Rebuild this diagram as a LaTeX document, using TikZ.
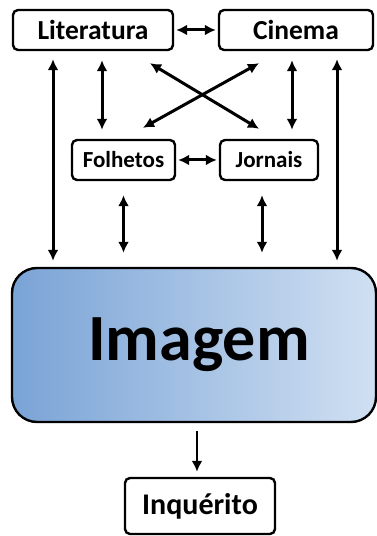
\documentclass[tikz,border=0pt]{standalone}
\usepackage{fontspec}
\setmainfont{Carlito}
\usetikzlibrary{positioning,arrows.meta}

\definecolor{imgleft}{RGB}{122,163,214}
\definecolor{imgright}{RGB}{208,224,242}

\tikzset{
    box/.style={draw,line width=2.4pt,rounded corners=5pt,inner sep=0pt},
    bigfont/.style={font=\fontsize{27.5}{32}\selectfont\bfseries},
    midfont/.style={font=\fontsize{23}{27}\selectfont\bfseries},
    link/.style={{Latex[length=11pt,width=11pt]}-{Latex[length=11pt,width=11pt]},line width=3pt},
    oneway/.style={-{Latex[length=11pt,width=11pt]},line width=2.6pt}
}

\begin{document}
\begin{tikzpicture}[x=1pt,y=1pt,on grid]
    \useasboundingbox (0,0) rectangle (377,536);
    \node[box,bigfont,minimum width=160pt,minimum height=40pt] (lit) at (93,506) {Literatura};
    \node[box,bigfont,minimum width=154pt,minimum height=40pt] (cin) [right=203pt of lit] {Cinema};
    \node[box,midfont,minimum width=103pt,minimum height=40pt] (folh) [below right=130pt and 30.5pt of lit] {Folhetos};
    \node[box,midfont,minimum width=98pt,minimum height=40pt] (jorn) [right=145.5pt of folh] {Jornais};
    \node[box,rounded corners=25pt,left color=imgleft,right color=imgright,minimum width=364pt,minimum height=154pt,font=\fontsize{66}{70}\selectfont\bfseries] (img) [below right=185pt and 70.5pt of folh] {\hspace*{10pt}Imagem};
    \node[box,font=\fontsize{30}{34}\selectfont\bfseries,minimum width=150pt,minimum height=56pt] (inq) [below right=161pt and 6pt of img] {Inquérito};

    \draw[link,shorten <=2pt,shorten >=2pt] (lit) -- (cin);
    \draw[link,shorten <=8pt,shorten >=6pt] ([xshift=-40pt]lit.south) -- ([xshift=-40pt]lit.south |- img.north);
    \draw[link,shorten <=9pt,shorten >=9pt] ([xshift=9pt]lit.south) -- ([xshift=9pt]lit.south |- folh.north);
    \draw[link] ([shift={(57pt,-12pt)}]lit.south) -- ([shift={(-10pt,10pt)}]jorn.north);
    \draw[link] ([shift={(-37pt,-12pt)}]cin.south) -- ([shift={(19.5pt,11pt)}]folh.north);
    \draw[link,shorten <=9pt,shorten >=9pt] ([xshift=-4pt]cin.south) -- ([xshift=-4pt]cin.south |- jorn.north);
    \draw[link,shorten <=8pt,shorten >=6pt] ([xshift=41pt]cin.south) -- ([xshift=41pt]cin.south |- img.north);
    \draw[link,shorten <=2pt,shorten >=2pt] (folh) -- (jorn);
    \draw[link,shorten <=14pt,shorten >=14pt] (folh.south) -- (folh.south |- img.north);
    \draw[link,shorten <=14pt,shorten >=14pt] ([xshift=-7pt]jorn.south) -- ([xshift=-7pt]jorn.south |- img.north);
    \draw[oneway,shorten <=8pt,shorten >=5pt] ([xshift=3pt]img.south) -- ([xshift=3pt]img.south |- inq.north);
\end{tikzpicture}
\end{document}
